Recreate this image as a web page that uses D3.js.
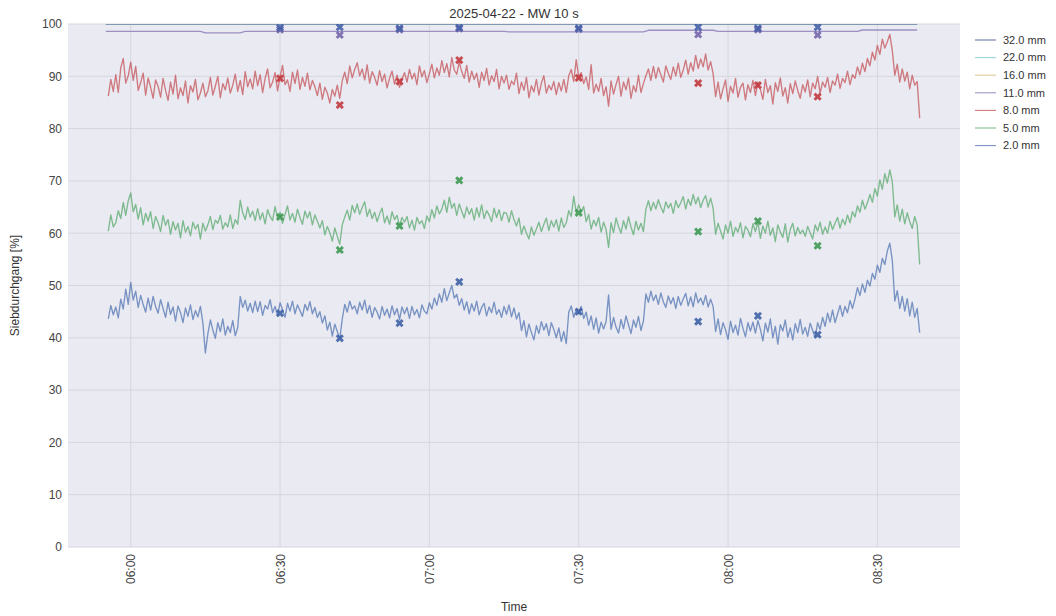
<!DOCTYPE html>
<html>
<head>
<meta charset="utf-8">
<script src="https://cdn.jsdelivr.net/npm/d3@7"></script>
<style>
  body { margin: 0; background: #fff; }
  text { font-family: "Liberation Sans", Arial, sans-serif; }
</style>
</head>
<body>
<div id="chart"></div>
<script>
// <------ data ------>
// 10 s moving mean, read every 30 s starting 05:55:30
var seriesStart = "05:55:30";
var stepSeconds = 30;

var val8mm = [
  86.2,89.4,87.1,90.3,86.9,91.6,93.4,88.7,90.1,92.7,89.2,91.9,87.3,88.8,90.6,86.4,89.7,87.9,85.8,89.3,
  88.1,86.0,89.6,87.3,85.4,88.9,86.6,90.2,85.7,87.8,86.3,89.1,84.9,88.2,87.0,89.4,85.5,86.8,88.7,86.1,
  87.2,89.8,86.4,88.1,90.0,85.9,88.6,87.4,89.7,86.8,88.3,90.4,87.1,89.2,86.5,90.9,88.0,89.5,87.6,91.0,
  88.2,90.3,86.9,89.6,91.4,87.8,88.9,90.7,87.2,89.9,92.1,88.4,89.3,87.1,90.8,88.6,91.2,87.5,89.8,88.1,
  90.6,87.4,89.2,88.0,86.3,88.7,85.6,87.9,86.8,84.9,87.5,86.2,88.3,85.8,89.2,90.8,88.6,92.0,89.7,91.3,
  92.6,90.1,91.4,89.3,92.2,88.7,90.9,89.8,88.3,91.1,89.0,90.4,87.8,89.6,91.0,88.5,90.2,87.9,89.4,90.7,
  88.9,91.3,89.5,90.6,88.4,92.0,89.9,91.1,88.8,90.5,92.3,89.7,91.6,90.2,93.0,90.7,92.4,89.9,93.6,91.2,
  90.4,92.7,90.9,89.6,92.1,88.9,91.0,89.4,90.6,87.9,90.8,89.2,91.5,88.3,90.1,89.0,91.3,87.6,90.0,88.7,
  90.2,87.5,89.1,88.4,90.6,86.7,88.9,87.3,89.8,85.9,88.2,87.0,89.4,86.4,88.7,90.1,86.8,88.3,87.4,89.0,
  86.5,88.8,87.2,89.4,86.9,90.1,91.3,89.0,93.2,89.8,90.7,88.6,89.9,87.5,92.2,86.8,88.5,87.1,89.6,86.3,
  88.0,84.3,89.1,86.6,88.4,90.0,86.2,88.9,87.4,89.7,85.8,88.2,87.0,90.2,86.9,88.6,90.1,91.4,89.2,91.9,
  89.6,91.7,90.3,88.9,92.0,90.6,89.4,91.8,90.1,92.5,89.8,91.2,93.1,90.4,92.6,91.0,94.0,91.5,93.3,91.8,
  94.3,91.2,92.8,90.5,86.1,88.9,85.7,87.6,89.3,85.2,88.1,86.8,89.6,86.0,87.9,88.7,85.5,88.4,86.9,89.2,
  86.3,88.9,87.5,85.6,89.4,86.9,88.2,84.7,88.8,87.1,89.7,86.2,87.8,84.9,88.6,86.7,89.1,87.3,85.8,88.4,
  87.0,89.3,86.1,88.7,87.6,90.0,86.8,88.9,87.9,89.8,86.9,89.1,88.3,90.4,87.7,89.6,88.8,91.0,88.4,90.3,
  89.6,91.8,90.3,92.5,90.9,93.4,92.0,94.6,93.1,95.9,94.2,97.1,95.4,96.6,98.0,94.9,90.2,92.3,88.9,91.4,
  89.1,90.8,87.6,90.2,88.3,89.0,82.0
];

var val5mm = [
  60.4,63.5,61.2,62.0,64.3,62.8,65.9,63.4,66.2,67.7,64.1,65.5,62.7,64.9,61.6,63.8,62.3,64.1,60.9,63.2,
  62.0,60.3,63.4,61.5,62.6,59.8,62.2,60.6,61.9,59.1,62.4,60.2,61.3,59.5,62.1,60.8,61.7,58.9,61.9,60.4,
  61.6,63.2,60.7,62.5,61.9,63.4,60.8,62.0,61.2,63.5,60.9,62.6,61.7,66.3,63.9,62.6,65.0,63.1,64.2,62.4,
  64.7,62.6,63.9,61.8,64.5,63.2,62.4,65.1,62.9,64.0,61.9,63.6,65.2,62.5,63.8,62.1,64.6,63.0,61.7,64.2,
  62.9,64.1,61.6,63.5,62.3,61.0,62.4,59.7,61.3,60.1,58.5,61.0,59.4,57.9,61.6,63.1,64.4,62.5,65.3,63.9,
  65.6,63.6,64.9,66.0,63.2,64.6,62.8,64.0,62.2,63.7,64.8,62.0,63.3,61.7,64.1,62.6,63.4,61.5,63.0,62.1,
  63.2,61.0,62.5,60.6,63.0,61.8,62.4,60.9,63.3,62.2,64.5,62.9,65.2,63.7,64.6,66.3,64.0,66.9,64.8,65.7,
  63.4,65.6,64.2,62.9,65.0,63.6,64.7,62.5,64.9,63.1,65.4,62.8,64.3,63.5,62.2,64.8,63.0,64.5,62.4,64.0,
  63.8,62.1,64.3,62.6,61.4,62.9,59.8,61.4,60.0,58.9,61.2,59.6,60.8,62.1,60.3,61.7,62.9,60.5,62.4,61.2,
  62.6,60.4,62.9,61.1,62.0,64.3,63.2,67.1,63.9,65.4,64.0,65.1,62.2,63.6,60.8,62.5,61.4,63.0,60.2,62.1,
  60.7,57.3,62.0,60.1,62.9,61.3,60.0,62.4,60.8,63.1,61.2,59.7,62.3,60.6,61.9,60.3,64.6,66.2,64.3,65.9,
  64.6,66.4,65.0,63.9,66.0,64.8,65.7,63.8,66.2,64.9,65.8,67.0,64.6,66.5,65.3,67.4,65.6,66.9,64.9,66.3,
  67.2,65.0,66.7,64.8,59.8,61.9,60.4,58.9,61.6,60.0,62.3,59.4,61.1,60.2,62.0,59.1,61.3,60.6,59.3,61.8,
  60.3,62.1,59.0,61.4,60.0,62.3,59.6,61.0,58.4,61.6,60.2,59.2,61.8,58.3,60.7,61.9,59.5,61.1,59.9,60.6,
  59.4,61.3,60.1,58.9,61.6,60.4,62.1,59.8,61.2,60.0,62.3,60.7,61.9,63.0,61.0,62.7,61.6,63.5,62.0,64.1,
  63.1,65.2,64.0,66.3,64.6,65.8,67.4,65.9,68.5,67.1,70.2,68.4,71.4,69.6,72.1,69.8,63.1,65.4,62.3,64.6,
  61.8,63.9,62.2,60.9,63.2,61.6,54.0
];

var val2mm = [
  43.6,46.2,44.4,45.9,43.8,47.4,45.5,49.3,46.4,50.6,47.2,48.9,45.8,48.1,46.4,44.9,47.6,45.3,47.9,46.0,
  44.7,47.3,45.6,43.9,46.8,44.5,45.9,43.2,46.1,44.8,42.9,45.7,44.1,46.3,43.5,45.2,44.0,46.0,42.8,37.1,
  40.8,43.4,41.5,39.9,42.9,41.2,43.6,40.5,42.2,41.0,43.3,40.4,42.0,47.9,45.8,47.2,45.1,46.6,44.8,47.0,
  45.0,46.9,44.3,46.2,45.5,47.3,44.8,46.0,44.2,46.7,45.4,43.9,46.6,45.1,47.0,44.6,46.3,45.2,44.1,46.4,
  45.2,46.9,44.6,45.8,43.9,45.0,42.8,44.2,41.5,43.0,40.3,42.6,41.2,39.8,43.6,46.4,44.9,47.0,45.5,46.1,
  44.6,46.8,45.3,47.2,44.7,46.2,43.9,45.8,44.9,43.6,46.0,44.3,45.5,43.8,46.1,44.4,45.6,43.5,45.9,44.6,
  45.8,43.7,46.0,44.4,45.4,43.8,46.3,45.1,44.6,46.7,45.5,47.6,46.2,48.4,46.8,49.4,47.1,48.6,50.0,47.6,
  48.3,46.2,47.5,45.3,46.9,44.6,46.5,45.1,47.0,44.4,45.8,46.6,44.2,45.9,44.8,46.8,44.5,45.4,43.9,46.0,
  44.5,46.3,44.0,45.7,43.6,44.8,41.4,43.3,40.2,42.6,41.0,39.6,42.3,40.8,43.1,41.5,42.7,40.4,42.9,41.6,
  40.0,41.9,39.3,41.2,38.9,44.9,46.1,43.9,45.4,44.6,46.0,43.7,44.9,42.4,44.2,41.6,43.8,40.9,43.0,41.7,
  43.1,48.2,41.6,43.9,42.0,40.9,43.5,41.7,44.2,42.5,40.8,43.4,42.0,44.1,41.4,43.2,48.4,46.8,48.9,47.1,
  48.2,46.4,48.6,46.9,45.8,48.0,46.5,47.7,45.6,47.9,46.2,47.4,48.5,46.1,47.8,45.9,48.6,46.7,47.6,46.3,
  48.1,45.9,47.4,46.0,41.2,43.6,40.6,42.9,41.5,39.7,43.2,41.0,42.4,40.5,43.7,41.8,40.2,42.9,41.3,43.0,
  40.9,43.3,41.6,39.4,42.8,41.1,43.6,40.0,42.2,38.8,42.5,41.3,43.4,40.1,41.9,39.6,42.7,41.0,43.5,40.7,
  42.0,40.3,42.8,41.4,40.0,42.9,41.6,43.9,42.2,44.7,43.0,45.3,42.9,44.5,46.2,44.1,46.0,44.8,47.1,45.6,
  47.4,49.6,48.1,50.3,48.7,51.0,49.9,52.3,51.2,53.9,52.5,55.2,54.0,56.6,58.1,54.8,47.0,49.0,45.6,47.9,
  45.1,47.5,44.2,46.8,43.9,45.6,41.0
];

// 11 mm is almost flat, read at its steps
var times11mm = ["05:55","06:14","06:15","06:22","06:23","07:15","07:16","07:43","07:44","07:57","07:58","08:26","08:27","08:38"];
var val11mm   = [98.6, 98.6, 98.3, 98.3, 98.6, 98.6, 98.5, 98.5, 98.8, 98.8, 98.6, 98.6, 98.85, 98.85];

// coarse fractions sit on 100 %
var timesFlat = ["05:55", "08:38"];
var val16mm = [100, 100];
var val22mm = [100, 100];
var val32mm = [100, 100];

// lab samples
var labTimes = ["06:30","06:42","06:54","07:06","07:30","07:54","08:06","08:18"];
var lab32mm = [99.3, 99.4, 99.2, 99.3, 99.2, 99.4, 99.2, 99.4];
var lab11mm = [98.9, 97.9, 98.9, 99.1, 99.0, 98.0, 98.9, 97.9];
var lab8mm  = [89.6, 84.5, 89.0, 93.1, 89.7, 88.7, 88.3, 86.1];
var lab5mm  = [63.1, 56.8, 61.4, 70.1, 63.9, 60.3, 62.3, 57.6];
var lab2mm  = [44.7, 39.9, 42.8, 50.7, 45.0, 43.1, 44.2, 40.6];

var legendLabels = ["32.0 mm", "22.0 mm", "16.0 mm", "11.0 mm", "8.0 mm", "5.0 mm", "2.0 mm"];
var yTicks = [0, 10, 20, 30, 40, 50, 60, 70, 80, 90, 100];

// <------ D3 ------>
var W = 1056, H = 616;
var plotL = 68, plotR = 960, plotT = 24, plotB = 547;

var parseHM = d3.timeParse("%Y-%m-%d %H:%M");
var parseHMS = d3.timeParse("%Y-%m-%d %H:%M:%S");
var day = "2025-04-22 ";
function tHM(s) { return parseHM(day + s); }

var svg = d3.select("#chart").append("svg")
    .attr("width", W)
    .attr("height", H);

var x = d3.scaleTime()
    .domain([parseHMS(day + "05:47:24"), parseHMS(day + "08:46:36")])
    .range([plotL, plotR]);
var y = d3.scaleLinear().domain([0, 100]).range([plotB, plotT]);

svg.append("defs").append("clipPath").attr("id", "plotclip")
    .append("rect").attr("x", plotL).attr("y", plotT)
    .attr("width", plotR - plotL).attr("height", plotB - plotT);

svg.append("rect")
    .attr("x", plotL).attr("y", plotT)
    .attr("width", plotR - plotL).attr("height", plotB - plotT)
    .style("fill", "#eaeaf2");

// grid
var xTicks = d3.timeMinute.every(30).range(tHM("06:00"), tHM("08:31"));
svg.append("g").selectAll("line").data(yTicks).enter().append("line")
    .attr("x1", plotL).attr("x2", plotR)
    .attr("y1", function(d) { return y(d); })
    .attr("y2", function(d) { return y(d); })
    .style("stroke", "#d6d6de").style("stroke-width", 1);
svg.append("g").selectAll("line").data(xTicks).enter().append("line")
    .attr("y1", plotT).attr("y2", plotB)
    .attr("x1", function(d) { return x(d); })
    .attr("x2", function(d) { return x(d); })
    .style("stroke", "#d6d6de").style("stroke-width", 1);

// axes, no spines or tick marks
var yAxis = svg.append("g")
    .attr("transform", "translate(" + plotL + ",0)")
    .call(d3.axisLeft(y).tickValues(yTicks).tickSize(0).tickPadding(6));
yAxis.select(".domain").remove();
yAxis.selectAll("text").style("font-size", "12px").style("fill", "#444");

var xAxis = svg.append("g")
    .attr("transform", "translate(0," + plotB + ")")
    .call(d3.axisBottom(x).tickValues(xTicks).tickFormat(d3.timeFormat("%H:%M")).tickSize(0));
xAxis.select(".domain").remove();
xAxis.selectAll("text")
    .style("font-size", "12px").style("fill", "#444")
    .attr("transform", "rotate(-90)")
    .attr("x", -7).attr("y", 0).attr("dy", "0.35em")
    .style("text-anchor", "end");

svg.append("text")
    .attr("x", 514).attr("y", 18)
    .style("text-anchor", "middle").style("font-size", "13px").style("fill", "#333")
    .text("2025-04-22 - MW 10 s");
svg.append("text")
    .attr("x", 514).attr("y", 611)
    .style("text-anchor", "middle").style("font-size", "12px").style("fill", "#333")
    .text("Time");
svg.append("text")
    .attr("transform", "translate(19," + ((plotT + plotB) / 2) + ") rotate(-90)")
    .style("text-anchor", "middle").style("font-size", "12px").style("fill", "#333")
    .text("Siebdurchgang [%]");

// lines
var lineColors = ["#3a4d8f", "#7cc3d8", "#ccb974", "#8172b3", "#c44e52", "#55a868", "#4c72b0"];
var markColors = ["#4460a8", "#64b5cd", "#ccb974", "#7565ab", "#c23a3f", "#3f9a53", "#3f62a6"];

var t0 = parseHMS(day + seriesStart);
function regular(vals) {
    return vals.map(function(v, i) { return { t: d3.timeSecond.offset(t0, i * stepSeconds), v: v }; });
}
function timed(times, vals) {
    return vals.map(function(v, i) { return { t: tHM(times[i]), v: v }; });
}

var lines = [
    { data: timed(timesFlat, val16mm), c: lineColors[2], o: 0.6 },
    { data: timed(timesFlat, val22mm), c: lineColors[1], o: 0.6 },
    { data: timed(timesFlat, val32mm), c: lineColors[0], o: 0.5 },
    { data: timed(times11mm, val11mm), c: lineColors[3], o: 0.75 },
    { data: regular(val8mm), c: lineColors[4], o: 0.72 },
    { data: regular(val5mm), c: lineColors[5], o: 0.72 },
    { data: regular(val2mm), c: lineColors[6], o: 0.72 }
];

var line = d3.line()
    .x(function(d) { return x(d.t); })
    .y(function(d) { return y(d.v); });

var plot = svg.append("g").attr("clip-path", "url(#plotclip)");
plot.selectAll("path.series").data(lines).enter().append("path")
    .attr("class", "series")
    .attr("d", function(d) { return line(d.data); })
    .style("fill", "none")
    .style("stroke", function(d) { return d.c; })
    .style("stroke-opacity", function(d) { return d.o; })
    .style("stroke-width", 1.35)
    .style("stroke-linejoin", "round");

// lab markers
var marks = [
    { vals: lab11mm, c: markColors[3] },
    { vals: lab32mm, c: markColors[0] },
    { vals: lab8mm, c: markColors[4] },
    { vals: lab5mm, c: markColors[5] },
    { vals: lab2mm, c: markColors[6] }
];
var cross = d3.symbol().type(d3.symbolCross).size(42);
marks.forEach(function(m) {
    plot.append("g").selectAll("path").data(timed(labTimes, m.vals)).enter().append("path")
        .attr("d", cross)
        .attr("transform", function(d) { return "translate(" + x(d.t) + "," + y(d.v) + ") rotate(45)"; })
        .style("fill", m.c)
        .style("fill-opacity", 0.9);
});

// legend
var legend = svg.append("g").attr("transform", "translate(975,40)");
var item = legend.selectAll("g").data(legendLabels).enter().append("g")
    .attr("transform", function(d, i) { return "translate(0," + (i * 17.6) + ")"; });
item.append("line")
    .attr("x1", 0).attr("x2", 21)
    .style("stroke", function(d, i) { return lineColors[i]; })
    .style("stroke-opacity", 0.75)
    .style("stroke-width", 1.1);
item.append("text")
    .attr("x", 28).attr("dy", "0.35em")
    .style("font-size", "11px").style("fill", "#333")
    .text(function(d) { return d; });
</script>
</body>
</html>
